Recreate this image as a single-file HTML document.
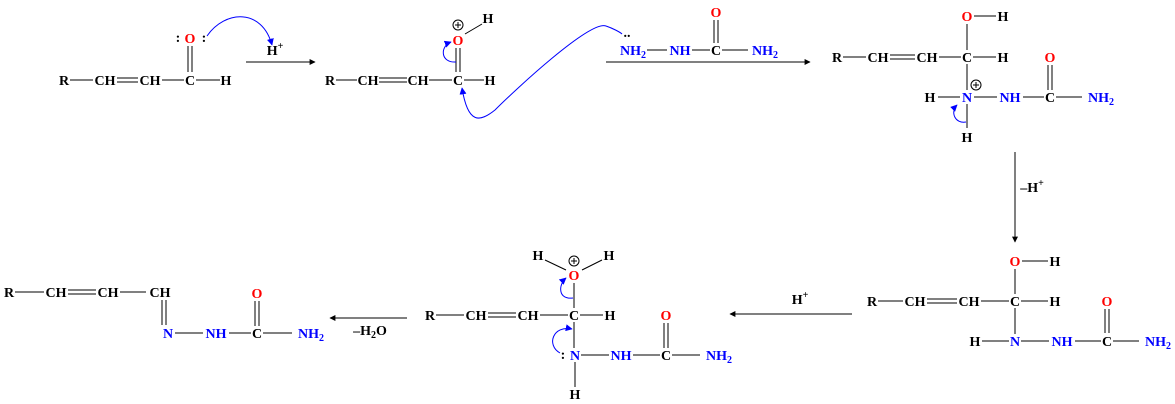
<!DOCTYPE html>
<html><head><style>body{margin:0;background:#fff}svg{display:block}
text{font-family:"Liberation Serif",serif;font-weight:bold;font-size:14px;text-anchor:middle}
.r{fill:#f00}.b{fill:#00f}.k{fill:#000}
</style></head><body>
<svg width="1175" height="404" viewBox="0 0 1175 404" xmlns="http://www.w3.org/2000/svg">
<defs>
<marker id="ab" viewBox="0 0 10 10" refX="9" refY="5" markerWidth="7" markerHeight="7" orient="auto"><path d="M0,0L10,5L0,10z" fill="#00f"/></marker>
<marker id="abs" viewBox="0 0 10 10" refX="1" refY="5" markerWidth="7" markerHeight="7" orient="auto"><path d="M10,0L0,5L10,10z" fill="#00f"/></marker>
<marker id="ak" viewBox="0 0 10 10" refX="9" refY="5" markerWidth="8" markerHeight="6" orient="auto"><path d="M0,0L10,5L0,10z" fill="#000"/></marker>
</defs>
<g stroke="#000" stroke-width="1" fill="none">
<!-- S1 -->
<path d="M70,80H93M117,78H138M117,82H138M162,80H184M196,80H220M188,46V72M192,46V72"/>
<!-- arrow1 -->
<path d="M246,62H315" marker-end="url(#ak)"/>
<!-- S2 -->
<path d="M336,80H357M379,78H407M379,82H407M429,80H452M464,80H484M456,48V72M460,48V72M465,34L482,24"/>
<!-- reagent -->
<path d="M647,50H667M692,50H710M722,50H748M714,20V43M718,20V43"/>
<path d="M606,62H810" marker-end="url(#ak)"/>
<!-- S3 -->
<path d="M843,57H866M890,55H915M890,59H915M939,57H961M973,57H996M974,16H996M967,24V50M967,64V90M938,97H960M974,97H997M1023,97H1044M1056,97H1082M967,104V128M1048,65V90M1052,65V90"/>
<path d="M1015,152V242" marker-end="url(#ak)"/>
<!-- S4 -->
<path d="M878,301H903M927,299H957M927,303H957M981,301H1009M1021,301H1048M1022,261H1048M1015,269V294M1015,308V334M982,341H1009M1021,341H1049M1075,341H1101M1113,341H1139M1105,309V333M1109,309V333"/>
<path d="M852,314H730" marker-end="url(#ak)"/>
<!-- S5 -->
<path d="M436,315H464M488,313H516M488,317H516M540,315H568M580,315H603M574,283V308M574,322V348M581,355H609M633,355H660M672,355H700M575,362V387M664,323V348M668,323V348M545,260L566,270M582,270L602,260"/>
<path d="M407,318H330" marker-end="url(#ak)"/>
<!-- S6 -->
<path d="M15,292H44M68,290H96M68,294H96M120,292H146M162,300V325M166,300V325M175,333H203M229,333H251M263,333H292M255,301V326M259,301V326"/>
</g>
<g fill="none" stroke="#00f" stroke-width="1">
<path d="M207,36C225,10 262,8 272,45" marker-end="url(#ab)"/>
<path d="M456,62C440,63 440,46 451,42" marker-end="url(#ab)"/>
<path d="M462,88C468,125 480,122 495,110C515,90 590,20 606,26C612,28 620,32 622,34" marker-start="url(#abs)"/>
<path d="M966,122C955,124 950,112 957,105" marker-end="url(#ab)"/>
<path d="M573,298C558,300 558,285 566,278" marker-end="url(#ab)"/>
<path d="M560,353C546,345 553,325 572,329" marker-end="url(#ab)"/>
</g>
<g fill="#000" font-size="10">
<circle cx="458" cy="25" r="5" fill="none" stroke="#000"/><path d="M455,25H461M458,22V28" stroke="#000"/>
<circle cx="976" cy="85" r="5" fill="none" stroke="#000"/><path d="M973,85H979M976,82V88" stroke="#000"/>
<circle cx="574" cy="261" r="5" fill="none" stroke="#000"/><path d="M571,261H577M574,258V264" stroke="#000"/>
</g>
<!-- S1 text -->
<text x="64" y="85">R</text><text x="105" y="85">CH</text><text x="150" y="85">CH</text><text x="190" y="85">C</text><text x="226" y="85">H</text>
<text x="190" y="43" class="r">O</text><text x="178" y="42">:</text><text x="204" y="42">:</text>
<text x="275" y="55">H<tspan font-size="10" dy="-6">+</tspan></text>
<!-- S2 -->
<text x="330" y="85">R</text><text x="368" y="85">CH</text><text x="418" y="85">CH</text><text x="458" y="85">C</text><text x="490" y="85">H</text>
<text x="458" y="45" class="r">O</text><text x="488" y="23">H</text>
<!-- reagent -->
<text x="633" y="55" class="b">NH<tspan font-size="10" dy="3">2</tspan></text><text x="627" y="37" font-size="10">..</text>
<text x="680" y="55" class="b">NH</text><text x="716" y="55">C</text><text x="765" y="55" class="b">NH<tspan font-size="10" dy="3">2</tspan></text>
<text x="716" y="17" class="r">O</text>
<!-- S3 -->
<text x="837" y="62">R</text><text x="878" y="62">CH</text><text x="927" y="62">CH</text><text x="967" y="62">C</text><text x="1003" y="62">H</text>
<text x="967" y="21" class="r">O</text><text x="1003" y="21">H</text>
<text x="930" y="102">H</text><text x="967" y="102" class="b">N</text><text x="1010" y="102" class="b">NH</text><text x="1050" y="102">C</text><text x="1101" y="102" class="b">NH<tspan font-size="10" dy="3">2</tspan></text>
<text x="1050" y="62" class="r">O</text><text x="967" y="142">H</text>
<text x="1032" y="192">–H<tspan font-size="10" dy="-6">+</tspan></text>
<!-- S4 -->
<text x="872" y="306">R</text><text x="915" y="306">CH</text><text x="969" y="306">CH</text><text x="1015" y="306">C</text><text x="1055" y="306">H</text>
<text x="1015" y="266" class="r">O</text><text x="1055" y="266">H</text>
<text x="975" y="346">H</text><text x="1015" y="346" class="b">N</text><text x="1062" y="346" class="b">NH</text><text x="1107" y="346">C</text><text x="1158" y="346" class="b">NH<tspan font-size="10" dy="3">2</tspan></text>
<text x="1107" y="306" class="r">O</text>
<text x="800" y="304">H<tspan font-size="10" dy="-6">+</tspan></text>
<!-- S5 -->
<text x="430" y="320">R</text><text x="476" y="320">CH</text><text x="528" y="320">CH</text><text x="574" y="320">C</text><text x="610" y="320">H</text>
<text x="574" y="280" class="r">O</text><text x="538" y="260">H</text><text x="609" y="260">H</text>
<text x="575" y="360" class="b">N</text><text x="563" y="359" font-size="10">:</text><text x="621" y="360" class="b">NH</text><text x="666" y="360">C</text><text x="719" y="360" class="b">NH<tspan font-size="10" dy="3">2</tspan></text>
<text x="666" y="320" class="r">O</text><text x="575" y="399">H</text>
<text x="370" y="335">–H<tspan font-size="10" dy="3">2</tspan><tspan dy="-3">O</tspan></text>
<!-- S6 -->
<text x="9" y="297">R</text><text x="56" y="297">CH</text><text x="108" y="297">CH</text><text x="160" y="297">CH</text>
<text x="168" y="338" class="b">N</text><text x="216" y="338" class="b">NH</text><text x="257" y="338">C</text><text x="311" y="338" class="b">NH<tspan font-size="10" dy="3">2</tspan></text>
<text x="257" y="298" class="r">O</text>
</svg>
</body></html>
